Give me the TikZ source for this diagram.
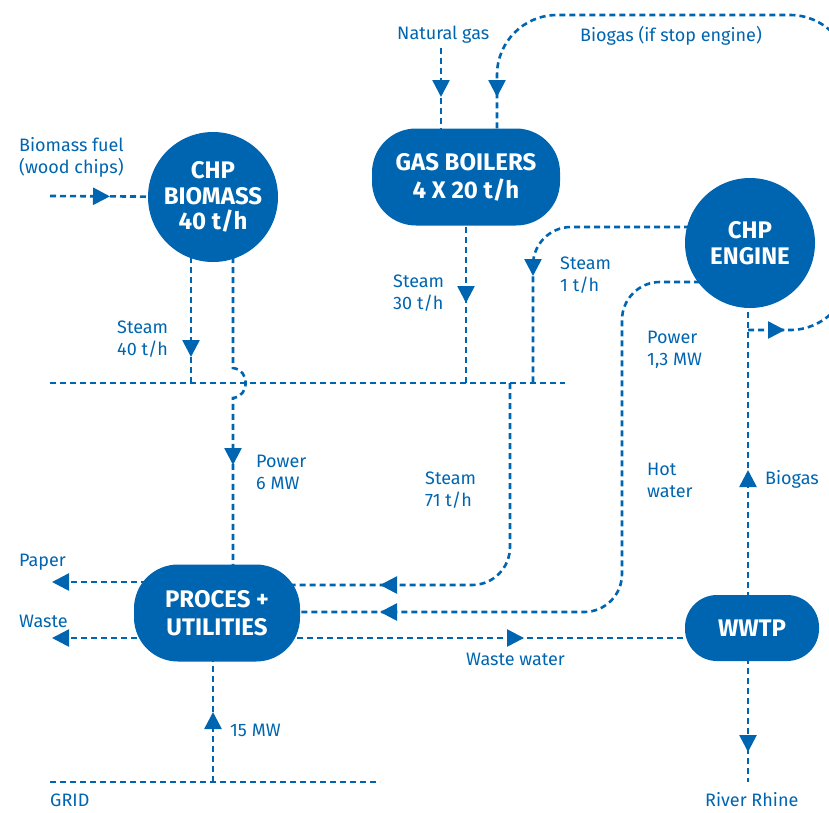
\documentclass[tikz,border=0pt]{standalone}
\usepackage{fontspec}
\setmainfont{Fira Sans}
\usetikzlibrary{arrows.meta, decorations.markings, backgrounds}
\definecolor{plantblue}{RGB}{0,101,176}
\tikzstyle{unit} = [circle, minimum size=130pt, inner sep=0pt, align=center, fill=plantblue, text=white, font=\fontsize{24}{25.5}\selectfont\bfseries]
\tikzstyle{block} = [rectangle, rounded corners=44pt, inner sep=0pt, align=center, fill=plantblue, text=white, font=\fontsize{24}{28}\selectfont\bfseries]
\tikzstyle{flow} = [draw=plantblue, line width=2.6pt, dash pattern=on 6pt off 4pt]
\tikzstyle{outarrow} = [-{Triangle[length=17pt,width=17pt]}]
\tikzstyle{lbl} = [anchor=base west, inner sep=0pt, align=left, text=plantblue, font=\fontsize{18}{21.5}\selectfont]
\tikzset{tipat/.style={postaction={decorate, decoration={markings, mark=at position #1 with {\arrow[plantblue]{Triangle[length=17pt,width=17pt]}}}}}}

\begin{document}
\begin{tikzpicture}[x=1pt, y=-1pt]
			\useasboundingbox (0,0) rectangle (829,812);
			\node(biomass)[unit] at (213,197) {CHP\\BIOMASS\\40 t/h};
			\node(boilers)[block, minimum width=188pt, minimum height=97pt] at (466,177) {GAS BOILERS\\4 X 20 t/h};
			\node(engine)[unit] at (750,243) {CHP\\ENGINE};
			\node(proces)[block, minimum width=166pt, minimum height=97pt] at (217,613) {PROCES +\\UTILITIES};
			\node(wwtp)[block, minimum width=134pt, minimum height=66pt, rounded corners=32pt] at (752,628) {WWTP};

			\coordinate (fuelin) at (50,196);
			\coordinate (gasin) at (441,48);
			\coordinate (hdrL) at (50,383);
			\coordinate (hdrR) at (565,383);
			\coordinate (hopT) at (233,368);
			\coordinate (hopB) at (233,398);
			\coordinate (s1) at (533,383);
			\coordinate (s71) at (510,383);
			\coordinate (hw) at (622,450);
			\coordinate (branch) at (748,330);
			\coordinate (loopBR) at (850,330);
			\coordinate (loopTR) at (850,15);
			\coordinate (loopTL) at (497,15);
			\coordinate (paperout) at (52,582);
			\coordinate (wasteout) at (52,638);
			\coordinate (river) at (748,782);
			\coordinate (gridL) at (50,782);
			\coordinate (gridR) at (380,782);
			\coordinate (gridpt) at (213,782);

			\begin{pgfonlayer}{background}
			\begin{scope}
			\clip (0,0) rectangle (829,812);
			\draw [flow, tipat=60pt] (fuelin) -- (biomass.center);
			\draw [flow, tipat=49pt] (gasin) -- (gasin |- boilers.center);
			\draw [flow, tipat=37pt, tipat=-80pt] (branch) [rounded corners=60pt] -- (loopBR) -- (loopTR) -- (loopTL) [rounded corners=35pt] -- (loopTL |- boilers.center);
			\draw [flow] (hdrL) -- (hdrR);
			\draw [flow, tipat=160pt] ([xshift=-22pt]biomass.center) -- ([xshift=-22pt]biomass.center |- hdrL);
			\draw [flow, tipat=-148pt] ([xshift=20pt]biomass.center) -- (hopT) .. controls +(17,2) and +(17,-2) .. (hopB) -- (hopB |- proces.center);
			\draw [flow, tipat=126pt] (boilers.center) -- (boilers.center |- hdrL);
			\draw [flow, rounded corners=38pt, tipat=-107pt] ([yshift=16pt]engine.center) -| (s1);
			\draw [flow, rounded corners=38pt, tipat=-163pt] (s71) |- ([yshift=28pt]proces.center);
			\draw [flow, rounded corners=38pt, tipat=-163pt] ([yshift=-39pt]engine.center) -| (hw) |- ([yshift=1pt]proces.center);
			\draw [flow, tipat=158pt] ([xshift=-4pt]wwtp.center) -- ([xshift=-2pt]engine.center);
			\draw [flow, tipat=307pt] ([yshift=-25pt]proces.center) -- ([yshift=-25pt]proces.center -| wwtp.center);
			\draw [flow, outarrow] ([yshift=31pt]proces.center) -- (paperout);
			\draw [flow, outarrow] ([yshift=-25pt]proces.center) -- (wasteout);
			\draw [flow, tipat=124pt] ([xshift=-4pt]wwtp.center) -- (river);
			\draw [flow] (gridL) -- (gridR);
			\draw [flow, tipat=70pt] (gridpt) -- (gridpt |- proces.center);
			\end{scope}
			\end{pgfonlayer}

			% Labels
			\node(lnatgas)[lbl] at (397,39) {Natural gas};
			\node(lbiogastop)[lbl] at (580,41) {Biogas (if stop engine)};
			\node(lfuel)[lbl] at (19,173) {Biomass fuel\\(wood chips)};
			\node(lsteam40)[lbl] at (117,355) {Steam\\40 t/h};
			\node(lsteam30)[lbl] at (393,309) {Steam\\30 t/h};
			\node(lsteam1)[lbl] at (560,291) {Steam\\1 t/h};
			\node(lpower13)[lbl] at (647,365) {Power\\1,3 MW};
			\node(lpower6)[lbl] at (256,489) {Power\\6 MW};
			\node(lsteam71)[lbl] at (425,506) {Steam\\71 t/h};
			\node(lhot)[lbl] at (647,497) {Hot\\water};
			\node(lbiogas)[lbl] at (765,484) {Biogas};
			\node(lpaper)[lbl] at (19,566) {Paper};
			\node(lwaste)[lbl] at (19,627) {Waste};
			\node(lwastewater)[lbl] at (466,665) {Waste water};
			\node(l15)[lbl] at (230,736) {15 MW};
			\node(lgrid)[lbl] at (50,806) {GRID};
			\node(lriver)[lbl] at (705,806) {River Rhine};
\end{tikzpicture}
\end{document}
